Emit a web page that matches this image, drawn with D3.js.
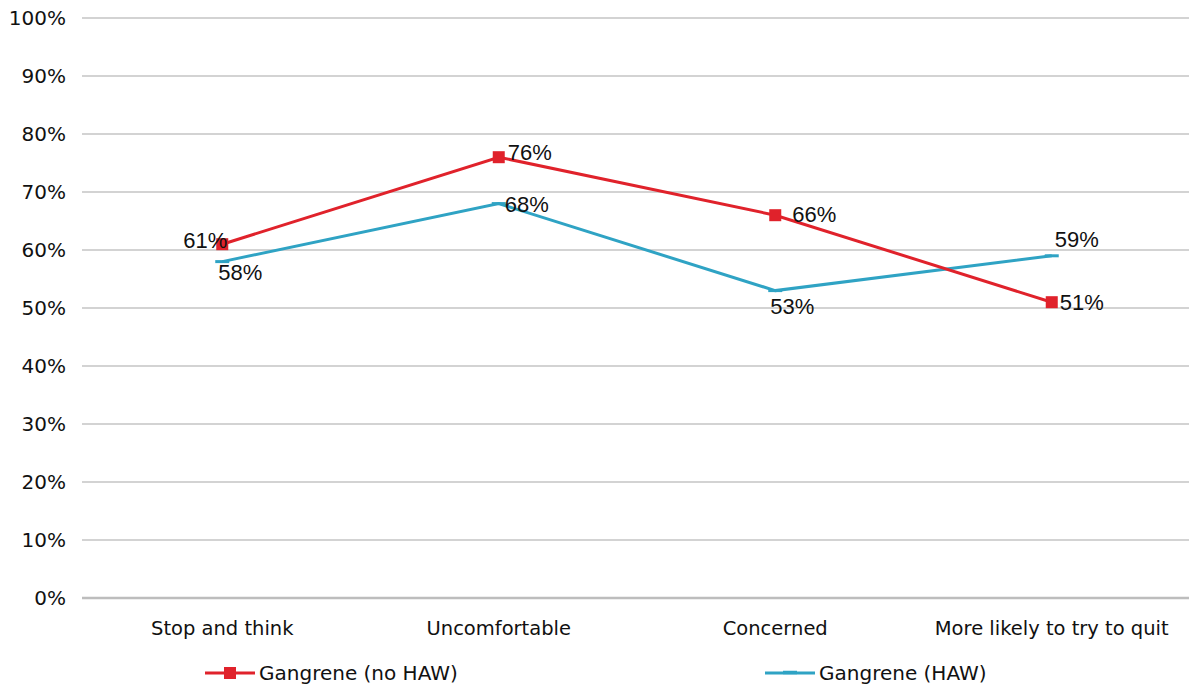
<!DOCTYPE html>
<html><head><meta charset="utf-8">
<script src="https://cdn.jsdelivr.net/npm/d3@7"></script>
<style>body{margin:0;background:#fff}svg{display:block}</style>
</head><body><svg id="c" width="1189" height="690"></svg>
<script>
const categories = ["Stop and think","Uncomfortable","Concerned","More likely to try to quit"];
const seriesNames = ["Gangrene (no HAW)","Gangrene (HAW)"];
const noHaw = [61,76,66,51];
const haw = [58,68,53,59];
const yTicks = [0,10,20,30,40,50,60,70,80,90,100];
const colors = ["#e0222b","#2fa3c4"];

const svg = d3.select("#c");
const tickFont = "'DejaVu Sans', Verdana, sans-serif";
const labelFont = "'Liberation Sans', Arial, sans-serif";
const x = d3.scaleBand().domain(categories).range([84,1190]);
const y = d3.scaleLinear().domain([0,100]).range([598,18]);
const cx = c => x(c) + x.bandwidth()/2;

// grid
svg.append("g").selectAll("line").data(yTicks.filter(t=>t>0)).join("line")
  .attr("x1",82).attr("x2",1189).attr("y1",d=>y(d)).attr("y2",d=>y(d))
  .attr("stroke","#c4c4c4").attr("stroke-width",1.3);
svg.append("line").attr("x1",82).attr("x2",1189).attr("y1",y(0)).attr("y2",y(0))
  .attr("stroke","#bdbdbd").attr("stroke-width",2.5);

// y labels
svg.append("g").selectAll("text").data(yTicks).join("text")
  .attr("x",66).attr("y",d=>y(d)).attr("dy","0.35em").attr("text-anchor","end")
  .attr("font-family",tickFont).attr("font-size",20).attr("fill","#111")
  .text(d=>d+"%");
// x labels
svg.append("g").selectAll("text").data(categories).join("text")
  .attr("x",d=>cx(d)).attr("y",628).attr("dy","0.35em").attr("text-anchor","middle")
  .attr("font-family",tickFont).attr("font-size",19.5).attr("fill","#111")
  .text(d=>d);

const line = d3.line().x((d,i)=>cx(categories[i])).y(d=>y(d));
// HAW
svg.append("path").datum(haw).attr("d",line).attr("fill","none").attr("stroke",colors[1]).attr("stroke-width",3);
svg.append("g").selectAll("line").data(haw).join("line")
  .attr("x1",(d,i)=>cx(categories[i])-7).attr("x2",(d,i)=>cx(categories[i])+7)
  .attr("y1",d=>y(d)).attr("y2",d=>y(d)).attr("stroke",colors[1]).attr("stroke-width",3);
// no HAW
svg.append("path").datum(noHaw).attr("d",line).attr("fill","none").attr("stroke",colors[0]).attr("stroke-width",3);
svg.append("g").selectAll("rect").data(noHaw).join("rect")
  .attr("x",(d,i)=>cx(categories[i])-6).attr("y",d=>y(d)-6).attr("width",12).attr("height",12)
  .attr("fill",colors[0]);

// data labels: [dx, dy, anchor]
const noHawPos = [[-17,-4,"middle"],[9,-5,"start"],[17,-1,"start"],[8,0,"start"]];
const hawPos = [[18,11,"middle"],[6,1,"start"],[17,16,"middle"],[25,-17,"middle"]];
function labels(vals,pos){
  svg.append("g").selectAll("text").data(vals).join("text")
    .attr("x",(d,i)=>cx(categories[i])+pos[i][0])
    .attr("y",(d,i)=>y(d)+pos[i][1]).attr("dy","0.35em")
    .attr("text-anchor",(d,i)=>pos[i][2])
    .attr("font-family",labelFont).attr("font-size",22).attr("fill","#111")
    .text(d=>d+"%");
}
labels(noHaw,noHawPos);
labels(haw,hawPos);

// legend
const lg = [{x:205,name:seriesNames[0],c:colors[0],m:"rect"},{x:765,name:seriesNames[1],c:colors[1],m:"dash"}];
lg.forEach(l=>{
  const ly=673;
  svg.append("line").attr("x1",l.x).attr("x2",l.x+50).attr("y1",ly).attr("y2",ly).attr("stroke",l.c).attr("stroke-width",3);
  if(l.m==="rect") svg.append("rect").attr("x",l.x+19).attr("y",ly-6).attr("width",12).attr("height",12).attr("fill",l.c);
  else svg.append("line").attr("x1",l.x+18).attr("x2",l.x+32).attr("y1",ly-0.5).attr("y2",ly-0.5).attr("stroke",l.c).attr("stroke-width",3.5);
  svg.append("text").attr("x",l.x+54).attr("y",ly).attr("dy","0.35em")
    .attr("font-family",tickFont).attr("font-size",20).attr("fill","#111").text(l.name);
});
</script></body></html>
